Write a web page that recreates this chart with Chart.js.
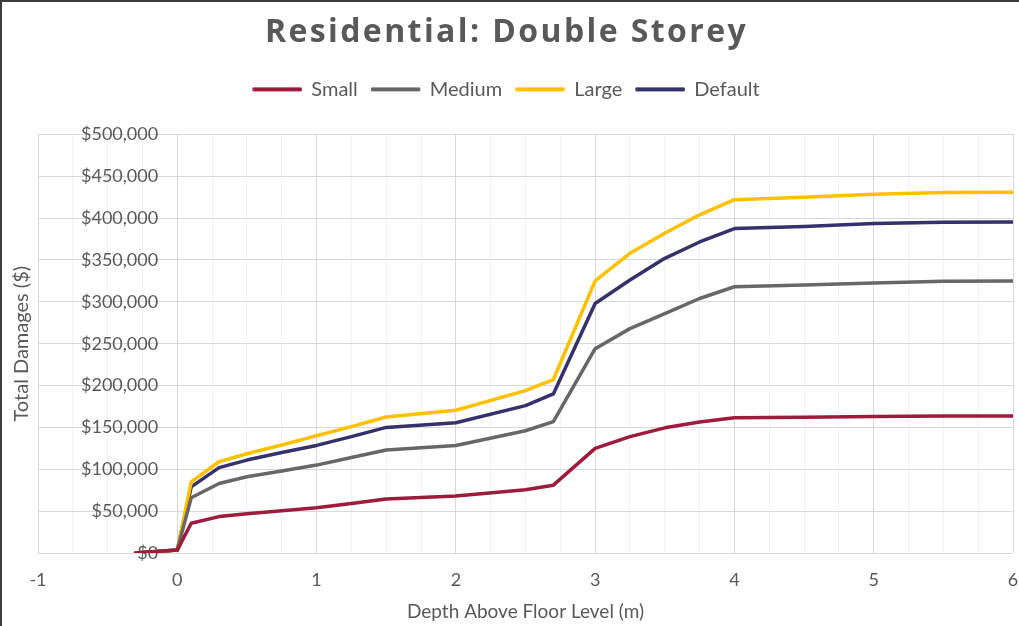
<!DOCTYPE html>
<html>
<head>
<meta charset="utf-8">
<title>Residential: Double Storey</title>
<script src="https://cdn.jsdelivr.net/npm/chart.js@4.4.1/dist/chart.umd.min.js"></script>
<style>
  html, body { margin: 0; padding: 0; background: #ffffff; }
  #wrap { position: relative; width: 1019px; height: 626px; }
  #frame { position: absolute; left: 0; top: 0; width: 1019px; height: 626px;
           box-sizing: border-box; border-left: 2px solid #3c3c3c; border-top: 2px solid #3c3c3c;
           pointer-events: none; }
  canvas { display: block; }
</style>
</head>
<body>
<div id="wrap">
  <canvas id="chart" width="1019" height="626"></canvas>
  <div id="frame"></div>
</div>
<script>
// Depth above floor level (m)
const depths = [-0.3, 0, 0.1, 0.3, 0.5, 0.75, 1, 1.25, 1.5, 2, 2.5, 2.7, 3, 3.25, 3.5, 3.75, 4, 4.5, 5, 5.5, 6];

// Total damages ($) per house size
const smallDamages   = [0, 3500, 35500, 43500, 47000, 50500, 54000, 59000, 64500, 68000, 75500, 81000, 125000, 139000, 149500, 156500, 161500, 162000, 163000, 163500, 163500];
const mediumDamages  = [0, 3500, 66000, 83000, 91000, 98000, 105000, 114000, 123000, 128500, 146000, 157000, 244000, 268000, 286000, 304000, 318000, 320000, 322500, 324500, 325000];
const largeDamages   = [0, 3500, 85000, 109000, 118500, 129000, 140000, 151000, 162500, 170500, 194000, 207000, 325000, 358000, 382000, 404000, 422000, 425000, 428500, 430500, 431000];
const defaultDamages = [0, 3500, 79000, 102000, 111000, 120000, 128500, 139000, 150000, 155500, 176000, 190000, 298000, 326000, 352000, 371500, 387500, 390000, 393500, 395000, 395500];

const seriesNames  = ['Small', 'Medium', 'Large', 'Default'];
const seriesValues = [smallDamages, mediumDamages, largeDamages, defaultDamages];
const seriesColors = ['#9E1B3C', '#676767', '#FFC000', '#34316C'];

// y-axis ticks
const yMin = 0, yMax = 500000, yStep = 50000;
// x-axis range, with light minor gridlines every quarter metre
const xMin = -1, xMax = 6, xMinorStep = 0.25;

const textGrey = '#595959';
const baseFont = 'Lato, "Open Sans", sans-serif';

const datasets = seriesNames.map((name, i) => ({
  label: name,
  data: depths.map((d, j) => ({ x: d, y: seriesValues[i][j] })),
  borderColor: seriesColors[i],
  backgroundColor: seriesColors[i],
  borderWidth: 3.5,
  borderJoinStyle: 'round',
  borderCapStyle: 'round',
  pointRadius: 0,
  pointHoverRadius: 0,
  tension: 0,
  fill: false
}));

// extra room under the legend row, and letter spacing for the chart title
const headerTweaks = {
  id: 'headerTweaks',
  beforeInit(chart) {
    const fit = chart.legend.fit;
    chart.legend.fit = function () {
      fit.call(this);
      this.height += 25;
    };
    const tb = chart.titleBlock;
    if (tb) {
      const draw = tb.draw;
      tb.draw = function () {
        const ctx = this.ctx;
        const prev = ctx.letterSpacing;
        ctx.letterSpacing = '2.4px';
        draw.apply(this, arguments);
        ctx.letterSpacing = prev || '0px';
      };
    }
  }
};

new Chart(document.getElementById('chart'), {
  type: 'line',
  data: { datasets },
  plugins: [headerTweaks],
  options: {
    responsive: false,
    animation: false,
    events: [],
    layout: { padding: { left: 0, right: 6, top: 0, bottom: 0 } },
    plugins: {
      title: {
        display: true,
        text: 'Residential: Double Storey',
        color: textGrey,
        font: { family: '"Open Sans", sans-serif', size: 32, weight: 'bold' },
        padding: { top: 14, bottom: 13 }
      },
      legend: {
        display: true,
        position: 'top',
        labels: {
          boxWidth: 48,
          boxHeight: 3,
          padding: 14,
          color: textGrey,
          font: { family: baseFont, size: 20 },
          generateLabels(chart) {
            return Chart.defaults.plugins.legend.labels.generateLabels(chart).map(item => {
              item.lineWidth = 1;
              return item;
            });
          }
        }
      },
      tooltip: { enabled: false }
    },
    scales: {
      x: {
        type: 'linear',
        position: 'bottom',
        min: xMin,
        max: xMax,
        border: { display: false },
        afterFit(scale) {
          scale.height = 73;
          scale.paddingLeft = 0;
          scale.paddingRight = 0;
        },
        grid: {
          drawTicks: false,
          lineWidth: 1,
          color: ctx => Number.isInteger(ctx.tick.value) ? '#d9d9d9' : '#f1f1f1'
        },
        ticks: {
          stepSize: xMinorStep,
          autoSkip: false,
          maxRotation: 0,
          padding: 16,
          color: textGrey,
          font: { family: baseFont, size: 18 },
          callback: v => Number.isInteger(v) ? String(v) : ''
        },
        title: {
          display: true,
          text: 'Depth Above Floor Level (m)',
          color: textGrey,
          font: { family: baseFont, size: 19 },
          padding: { top: 0, bottom: 3 }
        }
      },
      y: {
        type: 'linear',
        position: 'left',
        min: yMin,
        max: yMax,
        border: { display: false },
        afterFit(scale) {
          scale.width = 38;
          scale.paddingLeft = 0;
          scale.paddingRight = 0;
        },
        grid: { drawTicks: false, color: '#d9d9d9', lineWidth: 1 },
        ticks: {
          stepSize: yStep,
          mirror: true,
          crossAlign: 'far',
          padding: 43,
          color: textGrey,
          font: { family: baseFont, size: 18 },
          callback: v => '$' + Number(v).toLocaleString('en-US')
        },
        title: {
          display: true,
          text: 'Total Damages ($)',
          color: textGrey,
          font: { family: baseFont, size: 20 },
          padding: { top: 10, bottom: 4 }
        }
      }
    }
  }
});
</script>
</body>
</html>
